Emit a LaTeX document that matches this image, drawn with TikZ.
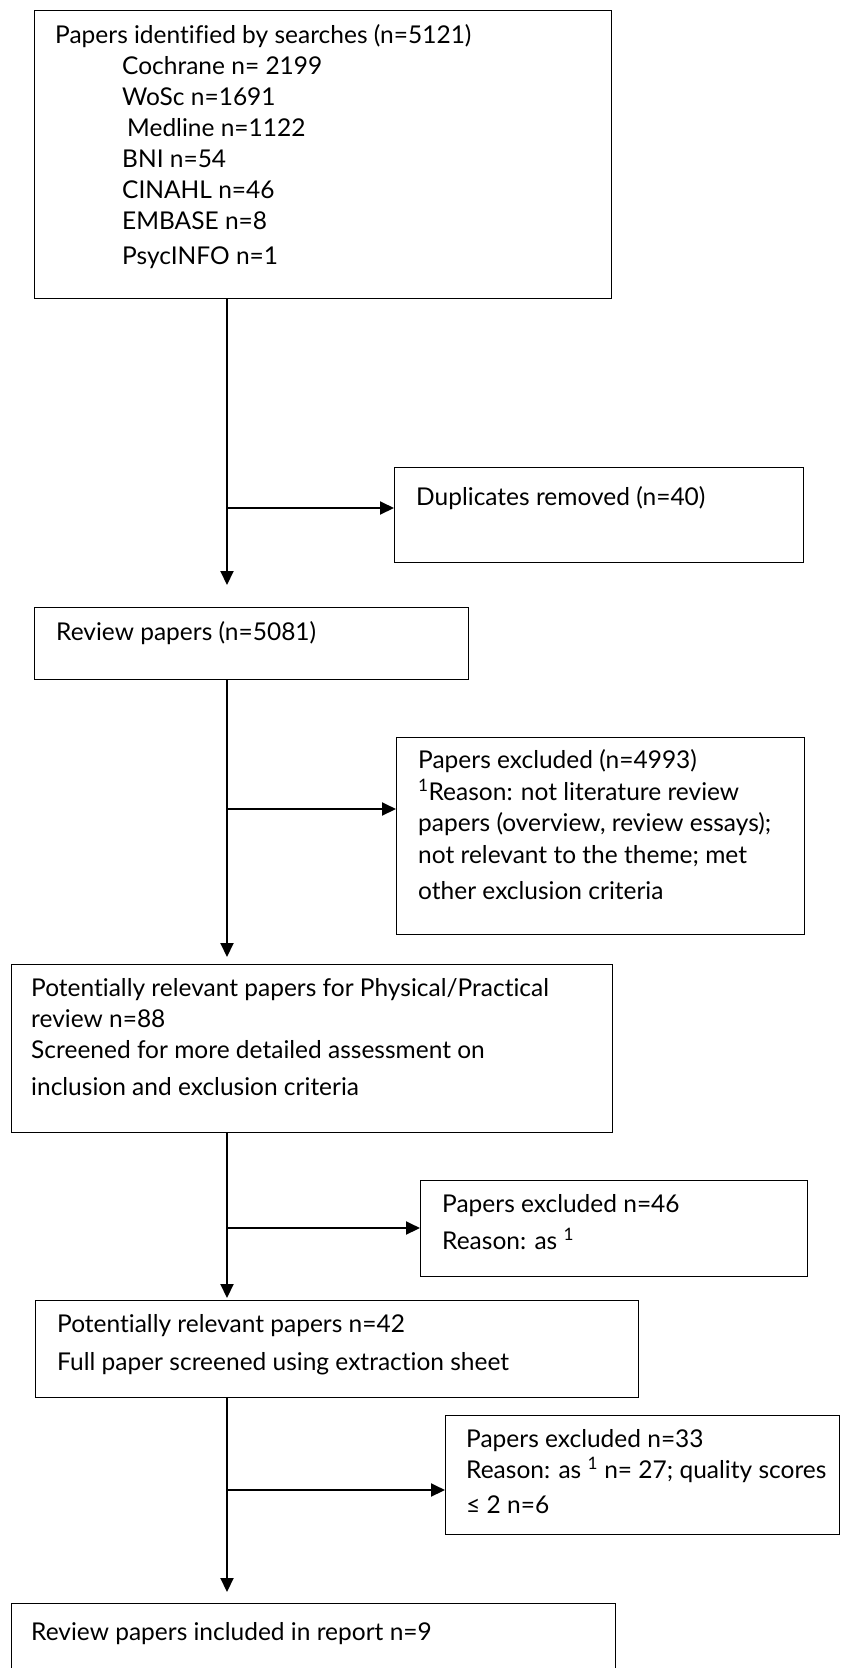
\documentclass[tikz,border=0pt]{standalone}
\usepackage{fontspec}
\setmainfont{Lato}[Ligatures=NoCommon]
\usepackage{tikz}
\usetikzlibrary{arrows.meta,positioning,calc}

\begin{document}
\begin{tikzpicture}[x=1pt,y=-1pt,
		box/.style={draw,rectangle,line width=1.3pt,anchor=north west,inner sep=0pt},
		txt/.style={align=left,inner sep=0pt,font=\fontsize{24.5}{31}\selectfont},
		flow/.style={line width=2pt,-{Triangle[length=14pt,width=13pt]}}]

		\useasboundingbox (0,0) rectangle (843,1668);
		\coordinate (spine) at (227,0);

		% boxes
		\node[box,minimum width=577pt,minimum height=288pt] (search) at (34,10) {};
		\node[box,minimum width=409pt,minimum height=95pt] (dupl) at (394,467) {};
		\node[box,minimum width=434pt,minimum height=72pt] (review) at (34,607) {};
		\node[box,minimum width=408pt,minimum height=197pt] (excl-a) at (396,737) {};
		\node[box,minimum width=601pt,minimum height=168pt] (relevant) at (11,964) {};
		\node[box,minimum width=387pt,minimum height=96pt] (excl-b) at (420,1180) {};
		\node[box,minimum width=603pt,minimum height=97pt] (fullpaper) at (35,1300) {};
		\node[box,minimum width=394pt,minimum height=119pt] (excl-c) at (445,1415) {};
		\node[box,minimum width=604pt,minimum height=75pt] (included) at (11,1603) {};

		% texts
		\node[txt,below right=14pt and 21pt of search.north west] (search-txt) {Papers identified by searches (n=5121)\\
			\hspace*{67pt}Cochrane n= 2199\\
			\hspace*{67pt}WoSc n=1691\\
			\hspace*{72pt}Medline n=1122\\
			\hspace*{67pt}BNI n=54\\
			\hspace*{67pt}CINAHL n=46\\
			\hspace*{67pt}EMBASE n=8\\[4pt]
			\hspace*{67pt}PsycINFO n=1};
		\node[txt,below right=19pt and 22pt of dupl.north west] (dupl-txt) {Duplicates removed (n=40)};
		\node[txt,below right=14pt and 22pt of review.north west] (review-txt) {Review papers (n=5081)};
		\node[txt,below right=12pt and 22pt of excl-a.north west] (excl-a-txt) {Papers excluded (n=4993)\\[1pt]
			\textsuperscript{1}Reason: not literature review\\
			papers (overview, review essays);\\[1pt]
			not relevant to the theme; met\\[5pt]
			other exclusion criteria};
		\node[txt,below right=14pt and 20pt of relevant.north west] (relevant-txt) {Potentially relevant papers for Physical/Practical\\
			review n=88\\
			Screened for more detailed assessment on\\[6pt]
			inclusion and exclusion criteria};
		\node[txt,below right=14pt and 22pt of excl-b.north west] (excl-b-txt) {Papers excluded n=46\\[6pt]
			Reason: as \textsuperscript{1}};
		\node[txt,below right=14pt and 22pt of fullpaper.north west] (fullpaper-txt) {Potentially relevant papers n=42\\[7pt]
			Full paper screened using extraction sheet};
		\node[txt,below right=14pt and 21pt of excl-c.north west] (excl-c-txt) {Papers excluded n=33\\
			Reason: as \textsuperscript{1} n= 27; quality scores\\[4pt]
			≤ 2 n=6};
		\node[txt,below right=19pt and 20pt of included.north west] (included-txt) {Review papers included in report n=9};

		% main line
		\draw[flow,shorten >=22pt] (search.south -| spine) -- (review.north -| spine);
		\draw[flow,shorten >=7pt] (review.south -| spine) -- (relevant.north -| spine);
		\draw[flow,shorten >=2pt] (relevant.south -| spine) -- (fullpaper.north -| spine);
		\draw[flow,shorten >=11pt] (fullpaper.south -| spine) -- (included.north -| spine);

		% side branches
		\coordinate (dupl-in) at ($(dupl.north west)+(0,41)$);
		\coordinate (excl-a-in) at ($(excl-a.north west)+(0,72)$);
		\coordinate (excl-b-in) at ($(excl-b.north west)+(0,48)$);
		\coordinate (excl-c-in) at ($(excl-c.north west)+(0,75)$);
		\draw[flow] (spine |- dupl-in) -- (dupl-in);
		\draw[flow] (spine |- excl-a-in) -- (excl-a-in);
		\draw[flow] (spine |- excl-b-in) -- (excl-b-in);
		\draw[flow] (spine |- excl-c-in) -- (excl-c-in);
\end{tikzpicture}
\end{document}
